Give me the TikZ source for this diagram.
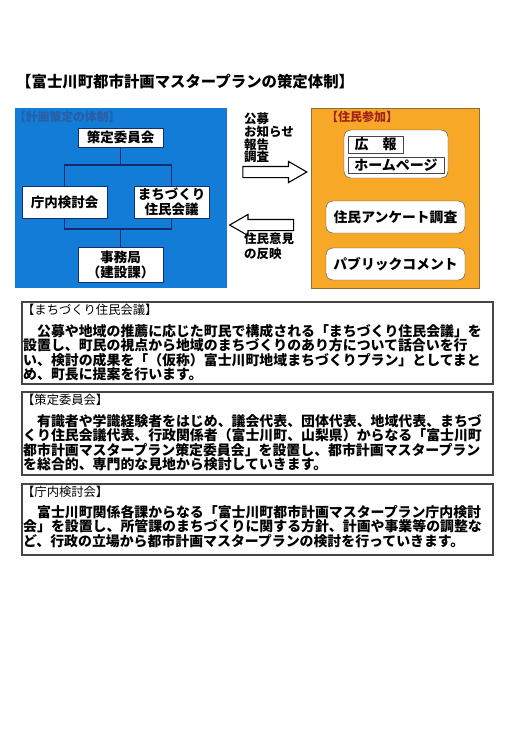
\documentclass[tikz,border=0pt]{standalone}
\usepackage{fontspec}
\setmainfont{Noto Sans CJK JP}
\usepackage{tikz}
\usetikzlibrary{shapes.arrows}

\definecolor{planblue}{RGB}{18,124,214}
\definecolor{navyline}{RGB}{20,45,110}
\definecolor{headblue}{RGB}{40,95,165}
\definecolor{resorange}{RGB}{247,168,38}
\definecolor{headred}{RGB}{160,35,25}
\definecolor{frame}{RGB}{70,70,70}

\begin{document}
\begin{tikzpicture}
[x=1pt,y=-1pt,
 wbox/.style={draw=navyline,fill=white,inner sep=0pt,align=center,font=\fontsize{13.5}{15}\bfseries},
 rbox/.style={draw=frame,fill=white,rounded corners=7pt,inner sep=0pt,align=center,font=\fontsize{13.8}{15}\bfseries},
 sbox/.style={draw=frame,fill=white,inner sep=0pt,font=\fontsize{14}{15}\bfseries},
 tline/.style={draw=navyline,line width=1.4pt},
 bigarrow/.style={single arrow,draw=black,fill=white,line width=1.1pt,minimum height=64pt,minimum width=20pt,
   inner sep=5pt,single arrow head extend=5pt,single arrow tip angle=60},
 heading/.style={anchor=west,inner sep=0pt,font=\fontsize{12.3}{14}\selectfont},
 bodytext/.style={anchor=north west,inner sep=0pt,align=left,font=\fontsize{13.9}{12.7}\bfseries}]
\useasboundingbox[fill=white] (0,0) rectangle (529,748);

\node[anchor=west,inner sep=0pt,font=\fontsize{15.4}{17}\bfseries] (title) at (16,82)
  {【富士川町都市計画マスタープランの策定体制】};

% planning side
\fill[planblue] (15,108) rectangle (227,288);
\node[heading,text=headblue,font=\fontsize{11.8}{13}\bfseries] (planhead) at (14,117) {【計画策定の体制】};
\node[wbox,minimum width=85pt,minimum height=19pt] (iinkai) at (120.5,137.5) {策定委員会};
\node[wbox,minimum width=85pt,minimum height=32pt] (chonai) at (64.5,202) {庁内検討会};
\node[wbox,minimum width=75pt,minimum height=32pt] (kaigi) at (171.5,202) {まちづくり\\住民会議};
\node[wbox,minimum width=85pt,minimum height=35pt] (jimu) at (120.5,264.5) {事務局\\（建設課）};
\coordinate (upper) at (120.5,165);
\coordinate (lower) at (120.5,229);
\draw[tline] (iinkai.south) -- (upper);
\draw[tline] (chonai.north) |- (upper) -| (kaigi.north);
\draw[tline] (chonai.south) |- (lower) -| (kaigi.south);
\draw[tline] (lower) -- (jimu.north);

% arrows between the two sides
\node[anchor=north west,inner sep=0pt,align=left,font=\fontsize{12.5}{12.7}\bfseries] (outlabel) at (244,113)
  {公募\\お知らせ\\報告\\調査};
\node[bigarrow] (toresident) at (270,172) {};
\node[bigarrow,shape border rotate=180] (toplan) at (266.5,225) {};
\node[anchor=north west,inner sep=0pt,align=left,font=\fontsize{12.5}{14.5}\bfseries] (inlabel) at (244,233)
  {住民意見\\の反映};

% resident side
\fill[resorange] (311,108) rectangle (479,288);
\draw[frame!60!resorange] (311,108) rectangle (479,288);
\node[heading,text=headred,font=\fontsize{12}{13}\bfseries] (reshead) at (326,117) {【住民参加】};
\node[rbox,minimum width=104pt,minimum height=48pt] (kohogroup) at (396,154) {};
\node[sbox,minimum width=55pt,minimum height=17pt] (koho) at (375.5,144.5) {広　報};
\node[sbox,minimum width=96pt,minimum height=16pt] (homepage) at (396,165) {ホームページ};
\node[rbox,minimum width=139pt,minimum height=32pt] (enquete) at (395.5,217) {住民アンケート調査};
\node[rbox,minimum width=139pt,minimum height=32pt] (pubcom) at (395.5,264) {パブリックコメント};

% explanations
\draw[frame,line width=1.2pt] (22,302) rectangle (493,384);
\node[heading] (headkaigi) at (22,310) {【まちづくり住民会議】};
\node[bodytext] (textkaigi) at (23,324)
  {　公募や地域の推薦に応じた町民で構成される「まちづくり住民会議」を\\
   設置し、町民の視点から地域のまちづくりのあり方について話合いを行\\
   い、検討の成果を「（仮称）富士川町地域まちづくりプラン」としてまと\\
   め、町長に提案を行います。};

\draw[frame,line width=1.2pt] (22,392) rectangle (493,475);
\node[heading] (headiinkai) at (22,400) {【策定委員会】};
\node[bodytext] (textiinkai) at (23,414)
  {　有識者や学識経験者をはじめ、議会代表、団体代表、地域代表、まちづ\\
   くり住民会議代表、行政関係者（富士川町、山梨県）からなる「富士川町\\
   都市計画マスタープラン策定委員会」を設置し、都市計画マスタープラン\\
   を総合的、専門的な見地から検討していきます。};

\draw[frame,line width=1.2pt] (22,484) rectangle (493,555);
\node[heading] (headchonai) at (22,492) {【庁内検討会】};
\node[bodytext] (textchonai) at (23,505)
  {　富士川町関係各課からなる「富士川町都市計画マスタープラン庁内検討\\
   会」を設置し、所管課のまちづくりに関する方針、計画や事業等の調整な\\
   ど、行政の立場から都市計画マスタープランの検討を行っていきます。};
\end{tikzpicture}
\end{document}
